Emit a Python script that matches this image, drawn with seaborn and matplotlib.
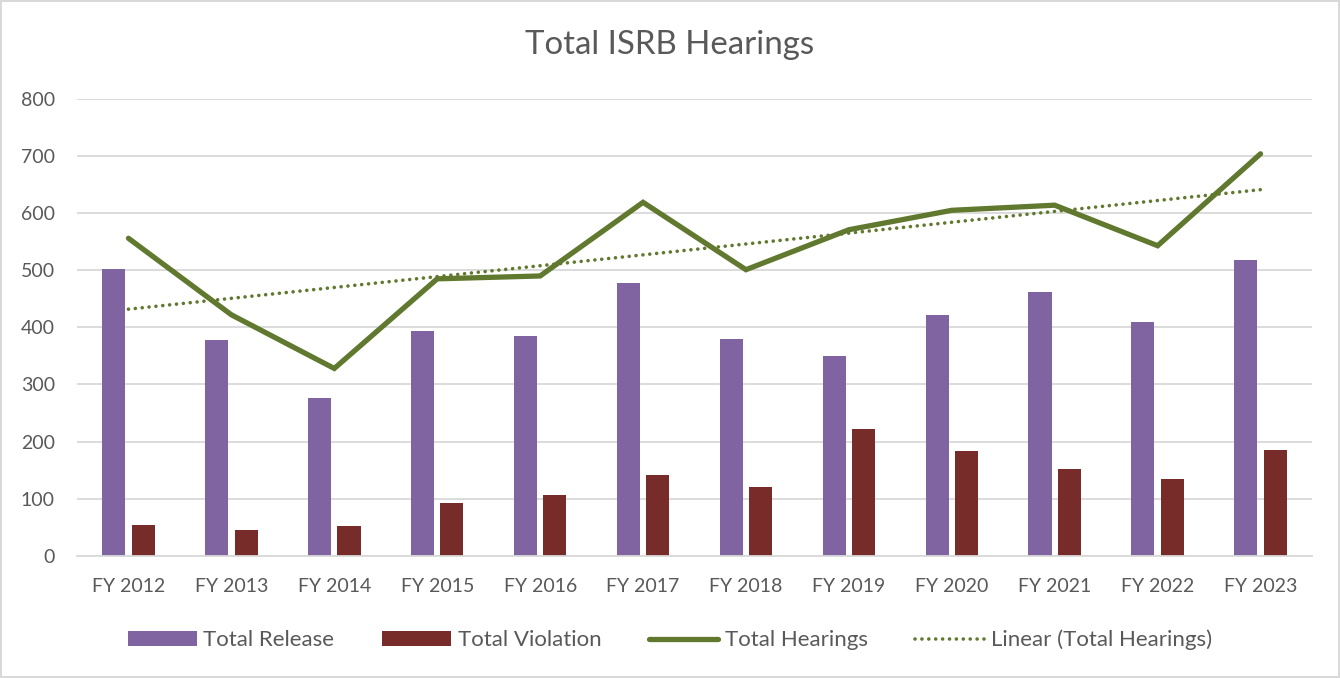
import numpy as np
import pandas as pd
import seaborn as sns
import matplotlib
matplotlib.use("Agg")
import matplotlib.pyplot as plt
from matplotlib.patches import Patch
from matplotlib.lines import Line2D

categories = ["FY 2012", "FY 2013", "FY 2014", "FY 2015", "FY 2016", "FY 2017",
              "FY 2018", "FY 2019", "FY 2020", "FY 2021", "FY 2022", "FY 2023"]
total_release = [502, 377, 276, 393, 384, 478, 380, 349, 422, 462, 409, 518]
total_violation = [54, 45, 52, 92, 106, 141, 121, 222, 183, 152, 134, 186]
total_hearings = [556, 422, 328, 485, 490, 619, 501, 571, 605, 614, 543, 704]
y_ticks = [0, 100, 200, 300, 400, 500, 600, 700, 800]

PURPLE = "#8064A2"
RED = "#772C2A"
GREEN = "#61782F"
TEXT = "#595959"
GRID = "#D9D9D9"

sns.set_theme(style="white")
plt.rcParams["font.family"] = ["Lato", "DejaVu Sans"]

df = pd.DataFrame({
    "Year": categories * 2,
    "Value": total_release + total_violation,
    "Series": ["Total Release"] * len(categories) + ["Total Violation"] * len(categories),
})

fig = plt.figure(figsize=(13.4, 6.78), dpi=100)
fig.patch.set_edgecolor(GRID)
fig.patch.set_linewidth(1.5)
ax = fig.add_axes([77 / 1340, 1 - 555.7 / 678, (1312 - 77) / 1340, (555.7 - 99) / 678])

sns.barplot(data=df, x="Year", y="Value", hue="Series", order=categories,
            hue_order=["Total Release", "Total Violation"],
            palette=[PURPLE, RED], width=0.572, gap=0.218, ax=ax,
            saturation=1, legend=False, linewidth=0)

xpos = np.arange(len(categories))
sns.lineplot(x=xpos, y=total_hearings, ax=ax, color=GREEN, linewidth=3.8,
             sort=False, legend=False)
ax.lines[-1].set_solid_capstyle("round")
ax.lines[-1].set_solid_joinstyle("miter")

coef = np.polyfit(xpos, total_hearings, 1)
trend = np.polyval(coef, xpos)
sns.lineplot(x=xpos, y=trend, ax=ax, color=GREEN, linewidth=2.6, legend=False)
tl = ax.lines[-1]
tl.set_linestyle((0, (0.01, 1.9)))
tl.set_dash_capstyle("round")

ax.set_xlim(-0.5, len(categories) - 0.5)
ax.set_ylim(0, 800)
ax.set_yticks(y_ticks)
ax.set_yticklabels([str(t) for t in y_ticks])
ax.set_xlabel("")
ax.set_ylabel("")
ax.grid(axis="y", color=GRID, linewidth=1.3)
ax.set_axisbelow(True)
for s in ["top", "right", "left"]:
    ax.spines[s].set_visible(False)
ax.spines["bottom"].set_color(GRID)
ax.spines["bottom"].set_linewidth(1.3)
ax.tick_params(axis="y", length=0, pad=16, labelsize=14, labelcolor=TEXT)
ax.tick_params(axis="x", length=0, pad=16, labelsize=14, labelcolor=TEXT)

fig.text(0.5, 1 - 45 / 678, "Total ISRB Hearings", ha="center", va="center",
         fontsize=23.8, color=TEXT)

handles = [
    Patch(facecolor=PURPLE, edgecolor="none"),
    Patch(facecolor=RED, edgecolor="none"),
    Line2D([0], [0], color=GREEN, linewidth=3.8),
    Line2D([0], [0], color=GREEN, linewidth=2.6, linestyle=(0, (0.01, 1.9)),
           dash_capstyle="round"),
]
labels = ["Total Release", "Total Violation", "Total Hearings", "Linear (Total Hearings)"]
leg = fig.legend(handles, labels, loc="center", bbox_to_anchor=(0.5, 1 - 640 / 678),
                 ncol=4, frameon=False, fontsize=16, handlelength=3.1,
                 handletextpad=0.3, columnspacing=2.15, labelcolor=TEXT)

fig.savefig("out.png", dpi=100)
